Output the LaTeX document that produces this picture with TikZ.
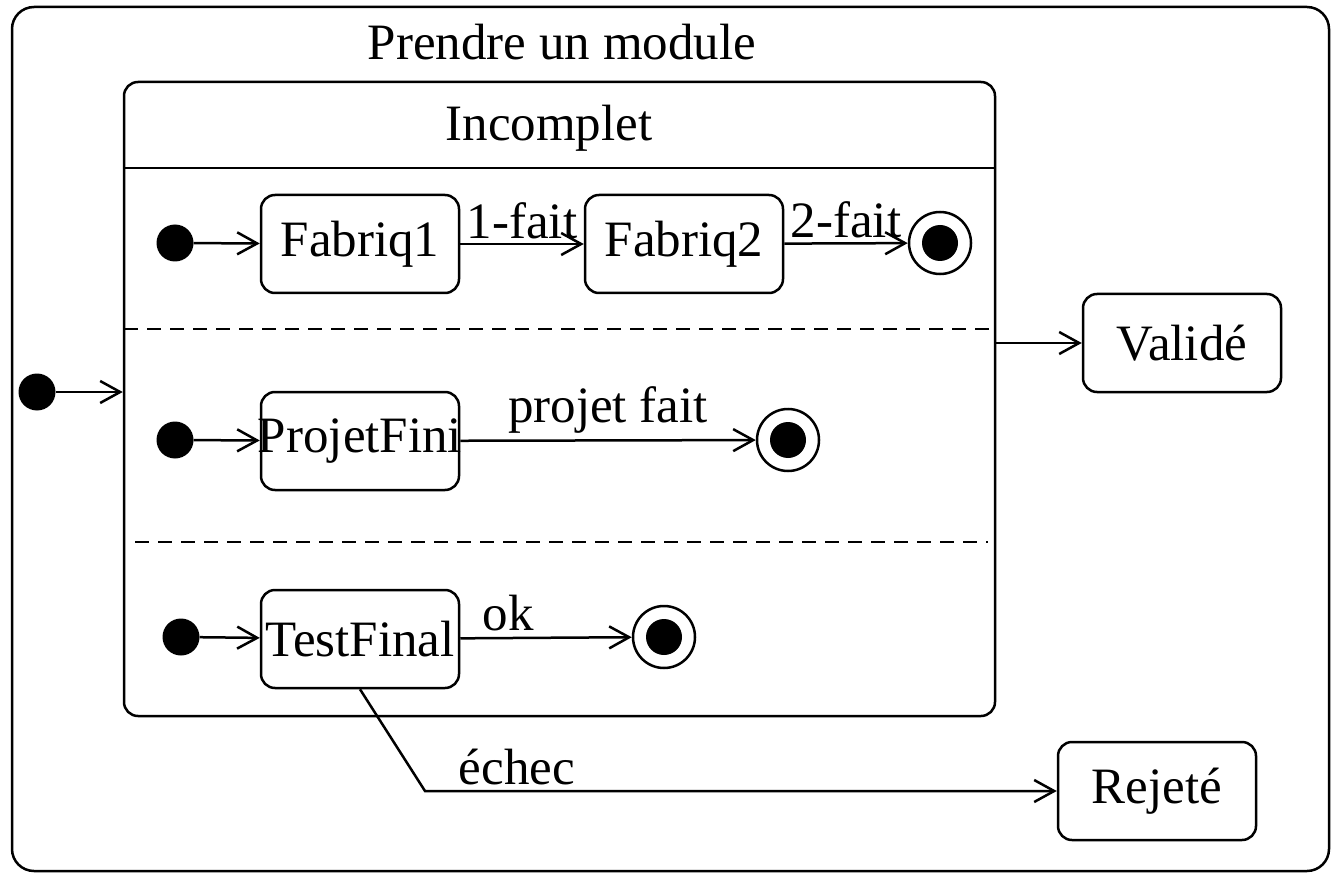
\documentclass[tikz,border=0pt]{standalone}
\usepackage{fontspec}
\setmainfont{Liberation Serif}
\usetikzlibrary{arrows.meta}
\begin{document}
\begin{tikzpicture}[x=1pt,y=-1pt,
  every node/.style={font=\fontsize{51}{56}\selectfont, inner sep=0pt},
  lw/.style={line width=2.5pt},
  st/.style={draw, lw, rounded corners=14pt, minimum width=198pt, minimum height=98pt},
  init/.style={circle, fill=black, minimum size=37pt},
  fin/.style={circle, draw, lw, minimum size=62pt},
  tr/.style={lw, -{Straight Barb[length=20pt,width=22pt,line width=2.5pt]}}
]
\useasboundingbox (0,0) rectangle (1332,874);
% outer state
\draw[lw, rounded corners=22pt] (12,7) rectangle (1329,871);
\node (title) at (562,42) {Prendre un module};
% Incomplet composite
\node[draw, lw, rounded corners=14pt, minimum width=871pt, minimum height=634pt] (inc) at (559.5,399) {};
\draw[lw] (124,168) -- (995,168);
\node (inct) at (549,128) {Incomplet};
\draw[lw, dash pattern=on 14pt off 9pt] (124,329) -- (995,329);
\draw[lw, dash pattern=on 14pt off 9pt] (135,542) -- (988,542);
% row 1
\node[init] (i1) at (175,243) {};
\node[st] (fa1) at (360,244) {Fabriq1};
\node[st] (fa2) at (684,244) {Fabriq2};
\node[fin] (f1) at (940,243) {};
\fill (f1) circle (18);
\draw[tr] (i1) -- (fa1);
\draw[tr] (fa1) -- (fa2) node[midway, above=4pt] {1-fait};
\draw[tr] (fa2) -- (f1) node[midway, above=4pt] {2-fait};
% row 2
\node[init] (i2) at (175,440) {};
\node[st] (pf) at (360,441) {\makebox[0pt][c]{ProjetFini}};
\node[fin] (f2) at (788,440) {};
\fill (f2) circle (18);
\draw[tr] (i2) -- (pf);
\draw[tr] (pf) -- (f2) node[midway, above=6pt] {projet fait};
% row 3
\node[init] (i3) at (181,637) {};
\node[st] (tf) at (360,639) {TestFinal};
\node[fin] (f3) at (664,637) {};
\fill (f3) circle (18);
\draw[tr] (i3) -- (tf);
\draw[tr] (tf) -- (f3) node[pos=0.28, above=6pt] {ok};
% outer initial
\node[init] (i0) at (37,392) {};
\draw[tr] (i0) -- (i0 -| inc.west);
% Valide
\node[st] (val) at (1182,343) {Validé};
\draw[tr] (val -| inc.east) -- (val);
% Rejete
\node[st] (rej) at (1157,791) {Rejeté};
\coordinate (bend) at (425,791);
\draw[tr] (tf.south) -- (bend) -- (rej);
\node (ech) at (517,767) {échec};
\end{tikzpicture}
\end{document}
